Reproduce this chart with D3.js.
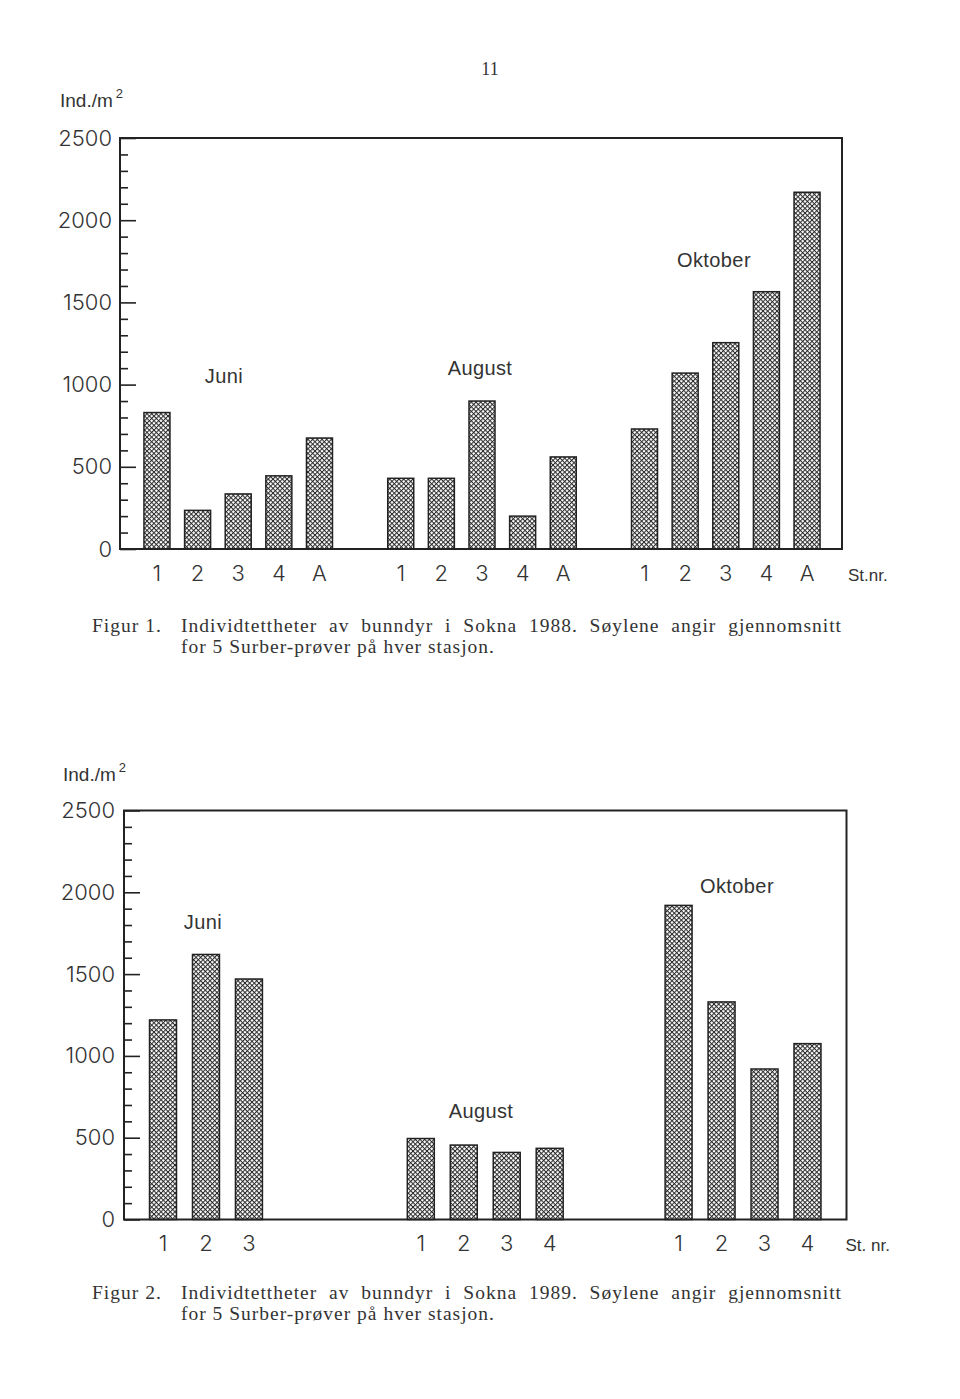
<!DOCTYPE html>
<html><head><meta charset="utf-8">
<script src="https://cdn.jsdelivr.net/npm/d3@7"></script>
<style>body{margin:0;background:#fff}</style>
</head><body>
<svg id="c" width="960" height="1399"></svg>
<script>
// ---------- data ----------
const months = ["Juni", "August", "Oktober"];
const stations1988 = ["1", "2", "3", "4", "A"];
const juni1988 = [830, 235, 335, 445, 675];
const august1988 = [430, 430, 900, 200, 560];
const oktober1988 = [730, 1070, 1255, 1565, 2170];
const stations1989 = ["1", "2", "3", "4"];
const juni1989 = [1220, 1620, 1470, null];
const august1989 = [495, 455, 410, 435];
const oktober1989 = [1920, 1330, 920, 1075];
const majorTicks = [0, 500, 1000, 1500, 2000, 2500];
const minorTicks = d3.range(100, 2500, 100).filter(v => v % 500 !== 0);
const yTitle = "Ind./m";
const caption1 = ["Figur 1.", "Individtettheter av bunndyr i Sokna 1988. Søylene angir gjennomsnitt", "for 5 Surber-prøver på hver stasjon."];
const caption2 = ["Figur 2.", "Individtettheter av bunndyr i Sokna 1989. Søylene angir gjennomsnitt", "for 5 Surber-prøver på hver stasjon."];

const svg = d3.select("#c");
const defs = svg.append("defs");
const S = 3.3;
defs.append("pattern").attr("id", "hatch").attr("patternUnits", "userSpaceOnUse")
  .attr("width", S).attr("height", S).attr("patternTransform", "rotate(45)")
  .call(p => {
    p.append("rect").attr("width", S).attr("height", S).attr("fill", "#fff");
    p.append("path").attr("d", `M0,0.5H${S}M0.5,0V${S}`).attr("stroke", "#2a2a2a").attr("stroke-width", 1.0);
  });

const SANS = "'Liberation Sans', Arial, sans-serif";
const THIN = "Inter, 'Liberation Sans', sans-serif";
const SERIF = "'Liberation Serif', 'Times New Roman', serif";

svg.append("text").attr("x", 490).attr("y", 75).attr("text-anchor", "middle")
  .attr("font-family", SERIF).attr("font-size", 18).attr("fill", "#333").text("11");

function drawChart(cfg) {
  const g = svg.append("g");
  const y = d3.scaleLinear().domain([0, 2500]).range([cfg.bottom, cfg.top]);
  const keys = [];
  cfg.series.forEach((vals, i) => {
    cfg.stations.forEach(s => keys.push(months[i] + "-" + s));
    if (i < cfg.series.length - 1) for (let k = 0; k < cfg.gap; k++) keys.push("gap-" + i + "-" + k);
  });
  const x = d3.scaleBand().domain(keys).range([cfg.left + cfg.shift, cfg.right + cfg.shift])
    .paddingInner(cfg.pi).paddingOuter(cfg.po);
  const bars = [];
  cfg.series.forEach((vals, i) => vals.forEach((v, j) => {
    if (v != null) bars.push({ key: months[i] + "-" + cfg.stations[j], st: cfg.stations[j], v });
  }));

  g.selectAll("rect.bar").data(bars).join("rect").attr("class", "bar")
    .attr("x", d => x(d.key)).attr("width", x.bandwidth())
    .attr("y", d => y(d.v)).attr("height", d => y(0) - y(d.v))
    .attr("fill", "url(#hatch)").attr("stroke", "#222").attr("stroke-width", 1.5);

  const major = d3.axisLeft(y).tickValues(majorTicks).tickFormat(d3.format("d"))
    .tickSizeInner(-16).tickSizeOuter(0).tickPadding(cfg.tp);
  const minor = d3.axisLeft(y).tickValues(minorTicks).tickSizeInner(-8).tickSizeOuter(0).tickFormat("");
  const ga = g.append("g").attr("transform", `translate(${cfg.left},0)`).call(major);
  const gm = g.append("g").attr("transform", `translate(${cfg.left},0)`).call(minor);
  [ga, gm].forEach(a => {
    a.select(".domain").remove();
    a.selectAll("line").attr("stroke", "#222").attr("stroke-width", 1.6);
  });
  ga.selectAll("text").attr("font-family", THIN).attr("font-weight", 300)
    .attr("font-size", 22).attr("fill", "#333");

  g.append("path").attr("d", `M${cfg.left},${y(0)}V${y(2500)}H${cfg.right}V${y(0)}Z`)
    .attr("fill", "none").attr("stroke", "#222").attr("stroke-width", 2);

  g.selectAll("text.xl").data(bars).join("text").attr("class", "xl")
    .attr("x", d => x(d.key) + x.bandwidth() / 2).attr("y", y(0) + cfg.xlab)
    .attr("text-anchor", "middle").attr("font-family", THIN).attr("font-weight", 300)
    .attr("font-size", 22).attr("fill", "#333")
    .text(d => d.st);
  g.append("text").attr("x", cfg.right + cfg.stx).attr("y", y(0) + cfg.xlab)
    .attr("font-family", SANS).attr("font-size", 17).attr("fill", "#333").text(cfg.stLabel);

  months.forEach((m, i) => {
    g.append("text").attr("x", cfg.monthPos[i][0]).attr("y", y(cfg.monthPos[i][1]))
      .attr("text-anchor", "middle").attr("font-family", SANS).attr("font-size", 20)
      .attr("letter-spacing", 0.4).attr("fill", "#333").text(m);
  });

  const t = g.append("text").attr("x", cfg.titleX).attr("y", cfg.titleY)
    .attr("font-family", SANS).attr("font-size", 19).attr("fill", "#333").text(yTitle);
  t.append("tspan").attr("dx", 3).attr("dy", -9).attr("font-size", 13).text("2");

  const c = cfg.caption;
  const cg = g.append("g").attr("font-family", SERIF).attr("font-size", 19.5).attr("fill", "#333")
    .attr("letter-spacing", 1.0);
  cg.append("text").attr("x", 92).attr("y", cfg.capY).text(c[0]);
  const l1 = cg.append("text").attr("x", 181).attr("y", cfg.capY).text(c[1]);
  const w = l1.node().getComputedTextLength();
  const nsp = c[1].split(" ").length - 1;
  l1.attr("word-spacing", Math.max(0, (842 - 181 - w) / nsp));
  cg.append("text").attr("x", 181).attr("y", cfg.capY + 21).text(c[2]);
}

drawChart({
  left: 120, right: 842, top: 138, bottom: 549, shift: 1,
  stations: stations1988, series: [juni1988, august1988, oktober1988], gap: 1,
  pi: 0.36, po: 0.565, tp: 8, xlab: 32, stx: 6, stLabel: "St.nr.",
  monthPos: [[224, 1011], [480, 1058], [714, 1717]],
  titleX: 60, titleY: 107, caption: caption1, capY: 632
});
drawChart({
  left: 124, right: 846.5, top: 810.5, bottom: 1219.5, shift: 0,
  stations: stations1989, series: [juni1989, august1989, oktober1989], gap: 2,
  pi: 0.372, po: 0.594, tp: 9, xlab: 31, stx: -1, stLabel: "St. nr.",
  monthPos: [[203, 1777], [481, 620], [737, 1995]],
  titleX: 63, titleY: 781, caption: caption2, capY: 1299
});
</script>
</body></html>
